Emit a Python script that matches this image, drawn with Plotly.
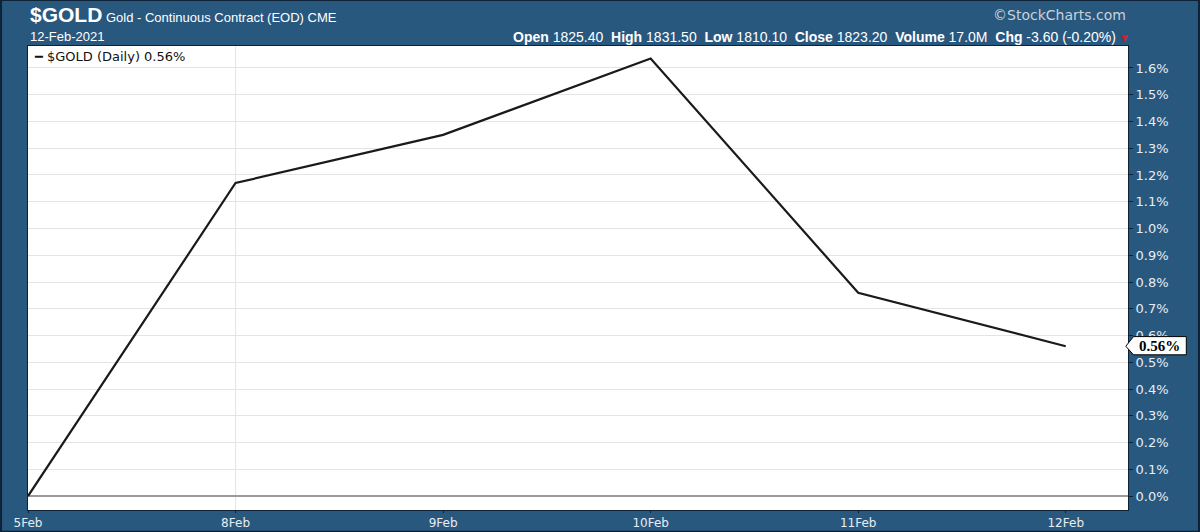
import plotly.graph_objects as go

dates = ["5Feb", "8Feb", "9Feb", "10Feb", "11Feb", "12Feb"]
pct_change = [0.0, 1.17, 1.35, 1.635, 0.76, 0.56]
y_ticks = [0.0, 0.1, 0.2, 0.3, 0.4, 0.5, 0.6, 0.7, 0.8, 0.9, 1.0, 1.1, 1.2, 1.3, 1.4, 1.5, 1.6]

BG = "#29587f"
TXT = "#e6edf3"
x_idx = list(range(len(dates)))

fig = go.Figure()
fig.add_trace(go.Scatter(x=x_idx, y=pct_change, mode="lines",
                         line=dict(color="#1a1a1a", width=2.2), showlegend=False,
                         hoverinfo="skip"))

fig.update_layout(
    width=1200, height=532,
    paper_bgcolor=BG, plot_bgcolor="white",
    margin=dict(l=28, r=72, t=46, b=22, autoexpand=False),
    font=dict(family="Liberation Sans, Arial, sans-serif", color=TXT),
    xaxis=dict(range=[0, 5.3], tickvals=x_idx, ticktext=dates, showgrid=False,
               zeroline=False, ticks="outside", ticklen=2, tickcolor="#0d2236",
               tickfont=dict(size=12, color=TXT, family="DejaVu Sans"), fixedrange=True,
               automargin=False,
               showline=True, linecolor="#0d2236", linewidth=1, mirror=True),
    yaxis=dict(side="right", range=[-0.052, 1.682], tickvals=y_ticks,
               ticktext=[f"{v:.1f}%" for v in y_ticks], showgrid=True, automargin=False,
               gridcolor="#e4e4e4", gridwidth=1, zeroline=True, zerolinecolor="#9a9a9a",
               zerolinewidth=2, ticks="outside", ticklen=4, tickcolor="#0d2236",
               tickfont=dict(size=13, color=TXT, family="DejaVu Sans"),
               showline=True, linecolor="#0d2236", linewidth=1, mirror=True),
)

# vertical grid line at week boundary
fig.add_shape(type="line", xref="x", yref="paper", x0=1, x1=1, y0=0, y1=1,
              line=dict(color="#e4e4e4", width=1), layer="below")

# last value marker
last = pct_change[-1]
fig.add_shape(type="path", xref="paper", yref="y", layer="above",
              path=(f"M 0.998 {last} L 1.005 {last+0.036} L 1.053 {last+0.036} "
                    f"L 1.053 {last-0.032} L 1.005 {last-0.032} Z"),
              fillcolor="white", line=dict(color="black", width=1))
fig.add_annotation(xref="paper", yref="y", x=1.029, y=last, text=f"<b>{last:.2f}%</b>",
                   showarrow=False, font=dict(family="Liberation Serif", size=15, color="black"),
                   xanchor="center", yanchor="middle")

# legend-like label
fig.add_annotation(xref="paper", yref="paper", x=0.004, y=0.997, xanchor="left", yanchor="top",
                   text=f"<b>━</b> $GOLD (Daily) {last:.2f}%", showarrow=False,
                   font=dict(family="DejaVu Sans", size=13, color="#111"),
                   bgcolor="white")

# header
fig.add_annotation(xref="paper", yref="paper", x=0.0, y=1.0, xanchor="left", yanchor="bottom",
                   yshift=18, showarrow=False,
                   text=("<b><span style='font-size:21px'>$GOLD</span></b> "
                         "<span style='font-size:13px'>Gold - Continuous Contract (EOD) CME</span>"),
                   font=dict(family="Liberation Sans", color="white", size=13))
fig.add_annotation(xref="paper", yref="paper", x=0.0, y=1.0, xanchor="left", yanchor="bottom",
                   yshift=0, showarrow=False, text="12-Feb-2021",
                   font=dict(family="Liberation Sans", color="white", size=13))
fig.add_annotation(xref="paper", yref="paper", x=1.0, y=1.0, xanchor="right", yanchor="bottom",
                   yshift=-1, xshift=-10, showarrow=False,
                   text=("<b>Open</b> 1825.40  <b>High</b> 1831.50  <b>Low</b> 1810.10  "
                         "<b>Close</b> 1823.20  <b>Volume</b> 17.0M  <b>Chg</b> -3.60 (-0.20%)"),
                   font=dict(family="Liberation Sans", color="white", size=14))
fig.add_annotation(xref="paper", yref="paper", x=1.0, y=1.0, xanchor="left", yanchor="bottom",
                   yshift=1, xshift=-9, showarrow=False, text="▼",
                   font=dict(family="DejaVu Sans", color="#d0202a", size=9))
fig.add_annotation(xref="paper", yref="paper", x=1.0, y=1.0, xanchor="right", yanchor="bottom",
                   yshift=21, xshift=0, showarrow=False, text="©StockCharts.com",
                   font=dict(family="DejaVu Sans", color="#c8d2dc", size=14))

# outer border
fig.add_shape(type="rect", xref="paper", yref="paper", x0=-0.0245, x1=1.0645,
              y0=-0.047, y1=1.099, line=dict(color="#0d2236", width=2), layer="above")

fig.write_html("out.html", config={"displayModeBar": False, "staticPlot": True},
               post_script="document.body.style.margin='0';document.body.style.overflow='hidden';")
